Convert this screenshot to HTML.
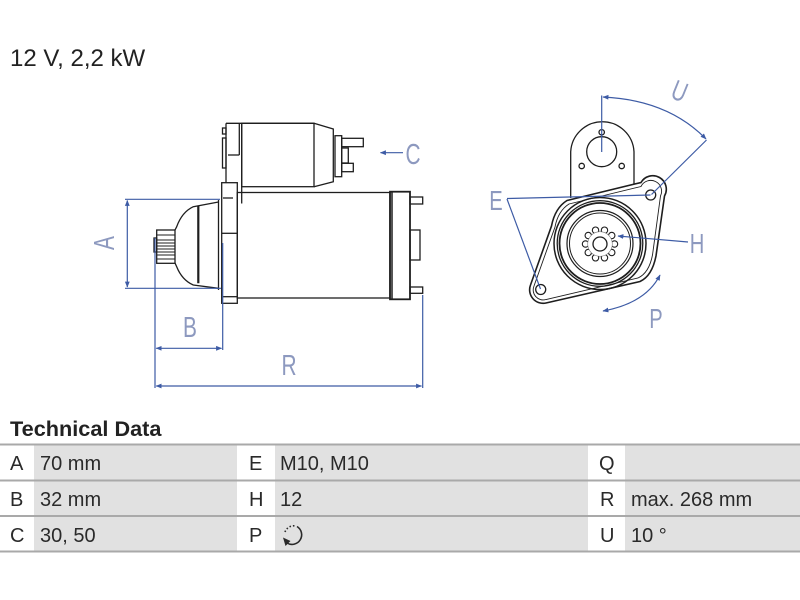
<!DOCTYPE html>
<html><head><meta charset="utf-8"><style>
html,body{margin:0;padding:0;background:#fff;}
svg{display:block;}
</style></head><body>
<svg width="800" height="600" viewBox="0 0 800 600" xmlns="http://www.w3.org/2000/svg">
<defs>
<marker id="ar" viewBox="0 0 10 10" refX="9" refY="5" markerWidth="6" markerHeight="6" orient="auto-start-reverse" markerUnits="userSpaceOnUse">
<path d="M0,1 L10,5 L0,9 Z" fill="#3d5ba5"/>
</marker>
</defs>
<rect width="800" height="600" fill="#fff"/>

<!-- title -->
<text x="10" y="66" font-family="Liberation Sans, sans-serif" font-size="24" fill="#222">12 V, 2,2 kW</text>

<!-- ===== LEFT VIEW (black drawing) ===== -->
<g fill="none" stroke="#1e1e1e" stroke-width="1.3">
  <!-- solenoid -->
  <line x1="226" y1="123.3" x2="226" y2="183"/>
  <line x1="226" y1="123.3" x2="314" y2="123.3"/>
  <line x1="239.3" y1="123.3" x2="239.3" y2="155"/>
  <line x1="228" y1="155" x2="239.3" y2="155"/>
  <line x1="241.7" y1="123.3" x2="241.7" y2="203.5"/>
  <rect x="241.7" y="123.3" width="72.3" height="63.4"/>
  <path d="M314,123.3 L333.3,129 L333.3,181.7 L314,186.7"/>
  <rect x="222.5" y="138" width="3.5" height="30"/>
  <rect x="222.5" y="128" width="3.5" height="6"/>
  <!-- terminals -->
  <rect x="335" y="135.7" width="6.7" height="41"/>
  <rect x="341.7" y="138.3" width="21.6" height="8.4"/>
  <rect x="341.7" y="148" width="6.6" height="15"/>
  <rect x="341.7" y="163.3" width="11.6" height="8.4"/>
  <!-- mounting flange -->
  <rect x="221.7" y="182.7" width="15.6" height="120.6"/>
  <line x1="223" y1="198" x2="233" y2="198"/>
  <line x1="221.7" y1="233.3" x2="237.3" y2="233.3"/>
  <line x1="221.7" y1="296.7" x2="237.3" y2="296.7"/>
  <!-- main body -->
  <rect x="237.3" y="192.5" width="152.7" height="105.5"/>
  <!-- end cap -->
  <rect x="390" y="191.7" width="20" height="107.6" stroke-width="1.8"/>
  <line x1="392" y1="191.7" x2="392" y2="299.3" stroke-width="1.5"/>
  <rect x="410" y="197" width="12.7" height="7"/>
  <rect x="410" y="287" width="12.7" height="6.3"/>
  <rect x="410" y="230" width="10" height="30"/>
  <!-- nose cone -->
  <line x1="218.5" y1="200" x2="218.5" y2="290"/>
  <path d="M218.5,202 L193.3,206.7 Q182,212 176.7,226.7 L175,230"/>
  <path d="M218.5,288.3 L193.3,285 Q182,280 176.7,266.7 L175,263"/>
  <line x1="198.3" y1="205.7" x2="198.3" y2="283.3" stroke-width="2.2"/>
  <!-- pinion -->
  <rect x="156.7" y="230" width="18.3" height="33.3"/>
  <rect x="154" y="238" width="2.7" height="14"/>
  <g stroke-width="1">
    <line x1="157" y1="235" x2="175" y2="235"/>
    <line x1="157" y1="240" x2="175" y2="240"/>
    <line x1="157" y1="243" x2="175" y2="243"/>
    <line x1="157" y1="246" x2="175" y2="246"/>
    <line x1="157" y1="249" x2="175" y2="249"/>
    <line x1="157" y1="252" x2="175" y2="252"/>
    <line x1="157" y1="255" x2="175" y2="255"/>
    <line x1="157" y1="259" x2="175" y2="259"/>
  </g>
</g>

<!-- ===== LEFT VIEW dimensions ===== -->
<g fill="none" stroke="#3d5ba5" stroke-width="1.2">
  <line x1="125" y1="199.3" x2="220" y2="199.3"/>
  <line x1="125" y1="288.3" x2="221" y2="288.3"/>
  <line x1="127.3" y1="200.5" x2="127.3" y2="287" marker-start="url(#ar)" marker-end="url(#ar)"/>
  <line x1="155" y1="238" x2="155" y2="388"/>
  <line x1="222.7" y1="243" x2="222.7" y2="350"/>
  <line x1="156.2" y1="348.3" x2="221.5" y2="348.3" marker-start="url(#ar)" marker-end="url(#ar)"/>
  <line x1="156.2" y1="386" x2="421.5" y2="386" marker-start="url(#ar)" marker-end="url(#ar)"/>
  <line x1="422.7" y1="295" x2="422.7" y2="388"/>
  <line x1="403" y1="152.7" x2="380.5" y2="152.7" marker-end="url(#ar)"/>
</g>
<g font-family="Liberation Sans, sans-serif" font-size="29" fill="#8d99bf">
  <text transform="translate(114,243) rotate(-90) scale(0.72,1)" text-anchor="middle">A</text>
  <text transform="translate(190,337) scale(0.72,1)" text-anchor="middle">B</text>
  <text transform="translate(289,375) scale(0.72,1)" text-anchor="middle">R</text>
  <text transform="translate(413,164) scale(0.72,1)" text-anchor="middle">C</text>
</g>

<!-- ===== RIGHT VIEW (black drawing) ===== -->
<g fill="none" stroke="#1e1e1e" stroke-width="1.3">
  <path d="M570.7,198 L570.7,151.7 A31.7,31.7 0 0 1 634,151.7 L634,185"/>
  <circle cx="601.7" cy="151.7" r="15"/>
  <circle cx="601.7" cy="132.3" r="2.7"/>
  <circle cx="581.7" cy="166" r="2.7"/>
  <circle cx="621.7" cy="166" r="2.7"/>
  <path d="M567,200.5 L641,182.5 A13.5,13.5 0 0 1 664.5,196 L656,256 Q652,276 640,281.5 L546,303 A13.5,13.5 0 0 1 530.5,285 L551.5,226 Q555,208 567,200.5 Z" stroke-width="1.6" fill="#fff"/>
  <path d="M569,204 L641,186.5 A10,10 0 0 1 660.5,196 L652.5,255 Q649,273 638,278 L546,299.5 A10,10 0 0 1 534,286 L555,227 Q558,211 569,204 Z" stroke-width="0.9"/>
  <circle cx="650.7" cy="195" r="5"/>
  <circle cx="540.7" cy="289.5" r="5"/>
  <circle cx="600" cy="243.5" r="46" stroke-width="1.5"/>
  <circle cx="600" cy="243.5" r="42.8" stroke-width="1.3"/>
  <circle cx="600" cy="243.5" r="40.5" stroke-width="1.8"/>
  <circle cx="600" cy="243.5" r="33" stroke-width="1.2"/>
  <circle cx="600" cy="243.5" r="30.5" stroke-width="1"/>
  <!-- gear -->
  <g fill="#fff" stroke-width="1.1">
    <circle cx="614.5" cy="244" r="3.2"/>
    <circle cx="611.73" cy="252.53" r="3.2"/>
    <circle cx="604.48" cy="257.79" r="3.2"/>
    <circle cx="595.52" cy="257.79" r="3.2"/>
    <circle cx="588.27" cy="252.53" r="3.2"/>
    <circle cx="585.5" cy="244" r="3.2"/>
    <circle cx="588.27" cy="235.47" r="3.2"/>
    <circle cx="595.52" cy="230.21" r="3.2"/>
    <circle cx="604.48" cy="230.21" r="3.2"/>
    <circle cx="611.73" cy="235.47" r="3.2"/>
    <circle cx="600" cy="244" r="12.3" stroke="none"/>
  </g>
  <path d="M612.3,244 A12.3,12.3 0 0 1 587.7,244 A12.3,12.3 0 0 1 612.3,244" stroke-width="0.6" stroke="#777"/>
  <circle cx="600" cy="244" r="7"/>
</g>

<!-- ===== RIGHT VIEW dimensions ===== -->
<g fill="none" stroke="#3d5ba5" stroke-width="1.2">
  <line x1="601.7" y1="95.5" x2="601.7" y2="152"/>
  <path d="M603,97 Q668,100 706,139" marker-start="url(#ar)" marker-end="url(#ar)"/>
  <line x1="706.5" y1="140" x2="651.5" y2="194.5"/>
  <line x1="507" y1="198.5" x2="650.5" y2="195"/>
  <line x1="507" y1="199" x2="540.5" y2="289"/>
  <line x1="688" y1="242" x2="618" y2="236" marker-end="url(#ar)"/>
  <path d="M660,275 Q646,303 603,311" marker-start="url(#ar)" marker-end="url(#ar)"/>
</g>
<g font-family="Liberation Sans, sans-serif" font-size="28" fill="#8d99bf">
  <text transform="translate(496,210) scale(0.72,1)" text-anchor="middle">E</text>
  <text transform="translate(697,253) scale(0.72,1)" text-anchor="middle">H</text>
  <text transform="translate(656,328) scale(0.72,1)" text-anchor="middle">P</text>
  <text transform="translate(676,100) rotate(22) scale(0.72,1)" text-anchor="middle">U</text>
</g>

<!-- ===== TABLE ===== -->
<text x="10" y="436" font-family="Liberation Sans, sans-serif" font-weight="bold" font-size="21.7" fill="#222">Technical Data</text>
<g fill="#e1e1e1">
  <rect x="34" y="445" width="203" height="107"/>
  <rect x="275" y="445" width="313" height="107"/>
  <rect x="625" y="445" width="175" height="107"/>
</g>
<g stroke="#a9a9a9" stroke-width="2">
  <line x1="0" y1="444.5" x2="800" y2="444.5"/>
  <line x1="0" y1="480.5" x2="800" y2="480.5"/>
  <line x1="0" y1="516" x2="800" y2="516"/>
  <line x1="0" y1="551.5" x2="800" y2="551.5"/>
</g>
<g font-family="Liberation Sans, sans-serif" font-size="20" fill="#2a2a2a">
  <text x="10" y="470">A</text>
  <text x="40" y="470">70 mm</text>
  <text x="249" y="470">E</text>
  <text x="280" y="470">M10, M10</text>
  <text x="599" y="470">Q</text>

  <text x="10" y="506">B</text>
  <text x="40" y="506">32 mm</text>
  <text x="249" y="506">H</text>
  <text x="280" y="506">12</text>
  <text x="600" y="506">R</text>
  <text x="631" y="506">max. 268 mm</text>

  <text x="10" y="542">C</text>
  <text x="40" y="542">30, 50</text>
  <text x="249" y="542">P</text>
  <text x="600" y="542">U</text>
  <text x="631" y="542">10 °</text>
</g>
<!-- P rotation icon -->
<g fill="none" stroke="#2a2a2a" stroke-width="1.6">
  <path d="M297,526.5 A9.5,9.5 0 1 1 287,543"/>
  <path d="M285,532 A9.5,9.5 0 0 1 296,526" stroke-dasharray="1.5,2"/>
</g>
<path d="M283,537.5 L290.5,541 L285.5,546 Z" fill="#2a2a2a"/>
</svg>
</body></html>
